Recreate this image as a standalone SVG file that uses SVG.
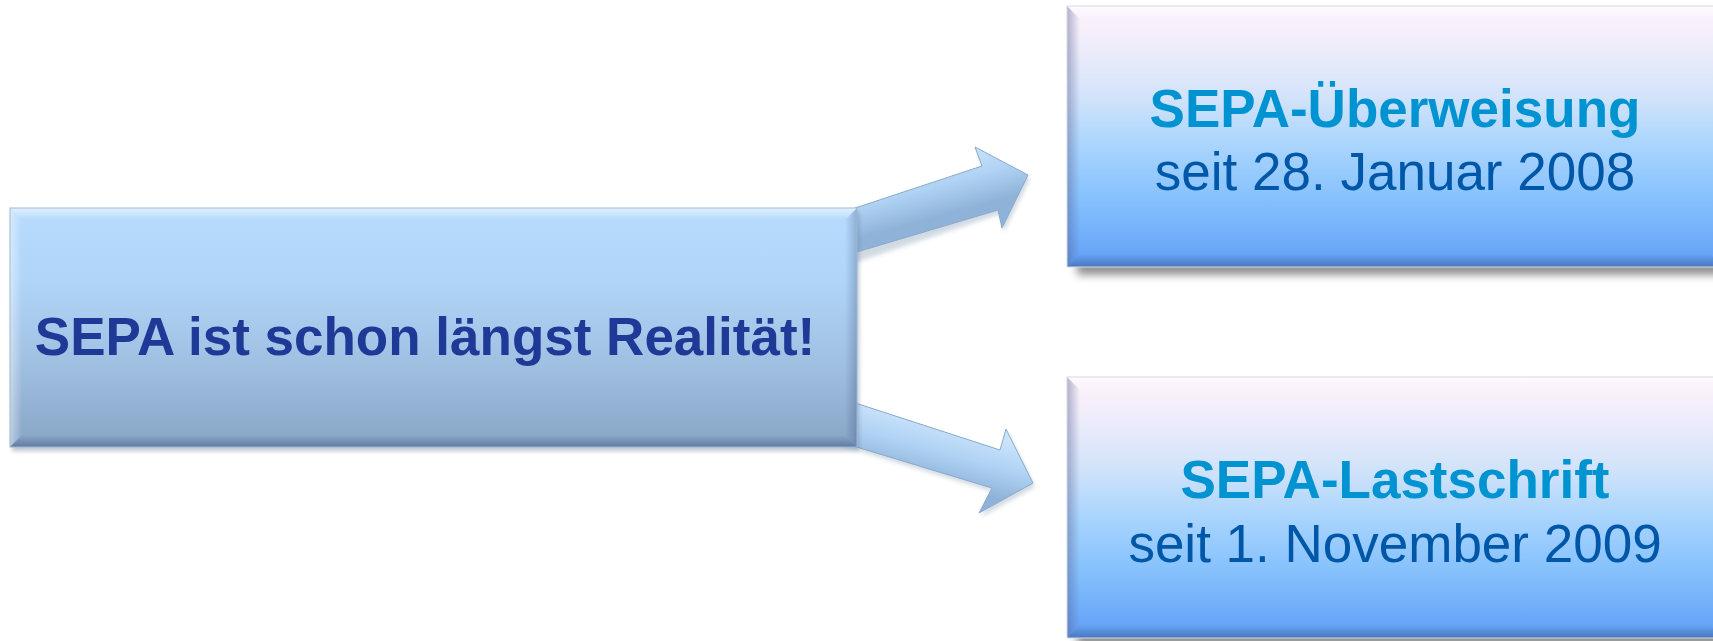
<svg xmlns="http://www.w3.org/2000/svg" width="1713" height="641" viewBox="0 0 1713 641">
  <defs>
    <linearGradient id="gLeft" x1="0" y1="0" x2="0" y2="1">
      <stop offset="0" stop-color="#b6dbfd"/>
      <stop offset="0.3" stop-color="#b0d5f8"/>
      <stop offset="0.65" stop-color="#a0c0e2"/>
      <stop offset="1" stop-color="#87a4c4"/>
    </linearGradient>
    <linearGradient id="gRight" x1="0" y1="0" x2="0" y2="1">
      <stop offset="0" stop-color="#fdf3fb"/>
      <stop offset="0.12" stop-color="#f3eefb"/>
      <stop offset="0.35" stop-color="#d2e3fa"/>
      <stop offset="0.52" stop-color="#acd6fd"/>
      <stop offset="0.72" stop-color="#89c3fd"/>
      <stop offset="0.9" stop-color="#6eacfa"/>
      <stop offset="1" stop-color="#609df2"/>
    </linearGradient>
    <linearGradient id="gArrowUp" gradientUnits="userSpaceOnUse" x1="930" y1="160" x2="945" y2="215">
      <stop offset="0" stop-color="#c9e3fb"/>
      <stop offset="0.5" stop-color="#aed1f3"/>
      <stop offset="1" stop-color="#8fb3d8"/>
    </linearGradient>
    <linearGradient id="gArrowDn" gradientUnits="userSpaceOnUse" x1="945" y1="425" x2="930" y2="480">
      <stop offset="0" stop-color="#c9e3fb"/>
      <stop offset="0.5" stop-color="#aed1f3"/>
      <stop offset="1" stop-color="#8fb3d8"/>
    </linearGradient>
    <linearGradient id="bevT" x1="0" y1="0" x2="0" y2="1">
      <stop offset="0" stop-color="#ffffff" stop-opacity="0.6"/>
      <stop offset="1" stop-color="#ffffff" stop-opacity="0"/>
    </linearGradient>
    <linearGradient id="bevB" x1="0" y1="0" x2="0" y2="1">
      <stop offset="0" stop-color="#1a3060" stop-opacity="0"/>
      <stop offset="1" stop-color="#1a3060" stop-opacity="0.35"/>
    </linearGradient>
    <linearGradient id="bevL" x1="0" y1="0" x2="1" y2="0">
      <stop offset="0" stop-color="#ffffff" stop-opacity="0.45"/>
      <stop offset="1" stop-color="#ffffff" stop-opacity="0"/>
    </linearGradient>
    <linearGradient id="bevLd" x1="0" y1="0" x2="1" y2="0">
      <stop offset="0" stop-color="#5a6090" stop-opacity="0.45"/>
      <stop offset="1" stop-color="#5a6090" stop-opacity="0"/>
    </linearGradient>
    <linearGradient id="bevR" x1="0" y1="0" x2="1" y2="0">
      <stop offset="0" stop-color="#1a3060" stop-opacity="0"/>
      <stop offset="1" stop-color="#1a3060" stop-opacity="0.25"/>
    </linearGradient>
    <filter id="blur" x="-10%" y="-20%" width="120%" height="140%">
      <feGaussianBlur stdDeviation="4"/>
    </filter>
    <filter id="blurS" x="-10%" y="-20%" width="120%" height="140%">
      <feGaussianBlur stdDeviation="2"/>
    </filter>
  </defs>
  <style>
    .txt { font-family: "Liberation Sans", Arial, sans-serif; font-size: 53px; text-anchor: middle; }
    .main { font-weight: bold; fill: #1e3a96; }
    .title { font-weight: bold; fill: #0093d1; }
    .sub { fill: #0057a7; }
    .arrow { stroke: #88aacc; stroke-width: 1; stroke-linejoin: round; }
    .edge { fill: none; stroke: #d4dbe8; stroke-width: 1; }
  </style>

  <rect width="1713" height="641" fill="#ffffff"/>

  <!-- connectors -->
  <g id="connectors">
    <polygon points="843,222 982,166 975,147 1028,175 1002,228 998,210 843,262" fill="#7d94ad" opacity="0.35" filter="url(#blurS)" transform="translate(2,4)"/>
    <polygon class="arrow" points="840,213 982,166 975,147 1028,175 1002,228 998,210 840,257" fill="url(#gArrowUp)"/>
    <polygon points="840,442 992,488 979,513 1033,483 1006,429 1000,450 840,398" fill="#7d94ad" opacity="0.35" filter="url(#blurS)" transform="translate(2,4)"/>
    <polygon class="arrow" points="840,398 1000,450 1006,429 1033,483 979,513 992,488 840,442" fill="url(#gArrowDn)"/>
  </g>

  <!-- left node -->
  <g id="node-left">
    <rect x="12" y="212" width="847" height="239" fill="#6b7f99" opacity="0.45" filter="url(#blurS)"/>
    <rect x="10" y="208" width="847" height="239" fill="url(#gLeft)"/>
    <polygon points="10,208 857,208 845,220 22,220" fill="url(#bevT)"/>
    <polygon points="10,208 22,220 22,435 10,447" fill="url(#bevL)"/>
    <polygon points="10,447 22,435 845,435 857,447" fill="url(#bevB)"/>
    <polygon points="857,208 857,447 845,435 845,220" fill="url(#bevR)"/>
    <rect x="10" y="208" width="847" height="239" fill="none" stroke="#9fb9d6" stroke-width="1"/>
    <text class="txt main" x="425" y="355">SEPA ist schon längst Realität!</text>
  </g>

  <!-- top right node -->
  <g id="node-top">
    <rect x="1077" y="14" width="656" height="261" fill="#6c6c6c" opacity="0.75" filter="url(#blur)"/>
    <rect x="1067" y="6" width="656" height="261" fill="url(#gRight)"/>
    <polygon points="1067,6 1723,6 1710,19 1080,19" fill="url(#bevT)"/>
    <polygon points="1067,6 1080,19 1080,254 1067,267" fill="url(#bevLd)"/>
    <polygon points="1067,267 1080,254 1710,254 1723,267" fill="url(#bevB)"/>
    <rect x="1067" y="6" width="656" height="261" class="edge"/>
    <text class="txt title" x="1395" y="127">SEPA-Überweisung</text>
    <text class="txt sub" x="1395" y="190">seit 28. Januar 2008</text>
  </g>

  <!-- bottom right node -->
  <g id="node-bottom">
    <rect x="1077" y="385" width="656" height="261" fill="#6c6c6c" opacity="0.75" filter="url(#blur)"/>
    <rect x="1067" y="377" width="656" height="261" fill="url(#gRight)"/>
    <polygon points="1067,377 1723,377 1710,390 1080,390" fill="url(#bevT)"/>
    <polygon points="1067,377 1080,390 1080,625 1067,638" fill="url(#bevLd)"/>
    <polygon points="1067,638 1080,625 1710,625 1723,638" fill="url(#bevB)"/>
    <rect x="1067" y="377" width="656" height="261" class="edge"/>
    <text class="txt title" x="1395" y="498">SEPA-Lastschrift</text>
    <text class="txt sub" x="1395" y="562">seit 1. November 2009</text>
  </g>
</svg>
